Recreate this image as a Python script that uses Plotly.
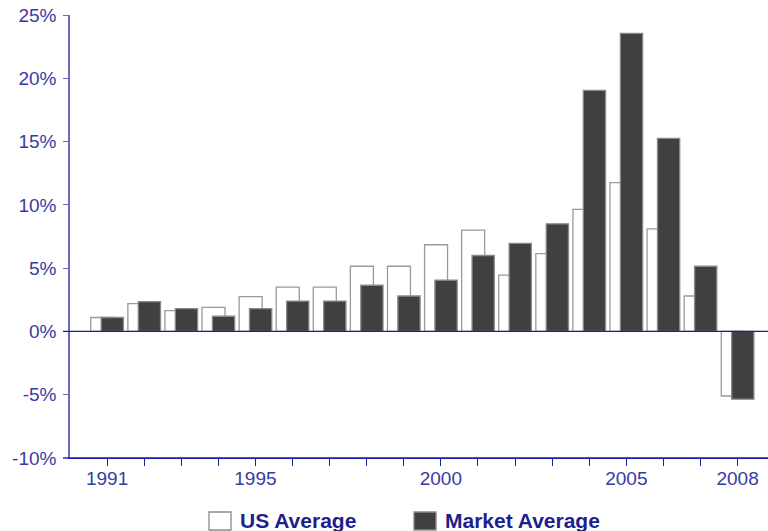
import plotly.graph_objects as go

years = list(range(1991, 2009))
us_average = [1.1, 2.2, 1.65, 1.9, 2.75, 3.5, 3.5, 5.15, 5.15, 6.85, 8.0, 4.45, 6.15, 9.65, 11.75, 8.1, 2.8, -5.1]
market_average = [1.1, 2.35, 1.8, 1.2, 1.8, 2.4, 2.4, 3.65, 2.8, 4.05, 6.0, 6.95, 8.5, 19.05, 23.55, 15.25, 5.15, -5.35]
x_labels = {1991: "1991", 1995: "1995", 2000: "2000", 2005: "2005", 2008: "2008"}
y_ticks = [-10, -5, 0, 5, 10, 15, 20, 25]
y_labels = ["-10%", "-5%", "0%", "5%", "10%", "15%", "20%", "25%"]
series_names = ["US Average", "Market Average"]
series_fill = ["#ffffff", "#404040"]
series_line = ["#9a9a9a", "#8a8a8a"]

text_color = "#3a3aa3"
axis_color = "#6b6bbd"
dark_axis = "#1c1ca0"
font_family = "Liberation Sans, Arial, sans-serif"

fig = go.Figure()
fig.add_trace(go.Bar(
    x=years, y=us_average, name=series_names[0],
    width=0.62, offset=-0.44,
    marker=dict(color=series_fill[0], line=dict(color=series_line[0], width=1.3)),
))
fig.add_trace(go.Bar(
    x=years, y=market_average, name=series_names[1],
    width=0.6, offset=-0.16,
    marker=dict(color=series_fill[1], line=dict(color=series_line[1], width=1.3)),
))

# zero line and bottom axis extension
fig.add_shape(type="line", xref="paper", yref="y", x0=-0.01, x1=1, y0=0, y1=0,
              line=dict(color=dark_axis, width=1.3), layer="above")
fig.add_shape(type="line", xref="paper", yref="y", x0=-0.01, x1=1, y0=-10, y1=-10,
              line=dict(color=dark_axis, width=1.3), layer="above")

# legend drawn as swatches + labels
legend_swatch_x = [(0.1991, 0.2307), (0.4928, 0.5244)]
legend_text_x = [0.2407, 0.5344]
for i, name in enumerate(series_names):
    fig.add_shape(type="rect", xref="paper", yref="paper",
                  x0=legend_swatch_x[i][0], x1=legend_swatch_x[i][1], y0=-0.1625, y1=-0.1219,
                  fillcolor=series_fill[i], line=dict(color="#8a8a8a", width=1.3))
    fig.add_annotation(xref="paper", yref="paper", x=legend_text_x[i], y=-0.1422,
                       text="<b>%s</b>" % name, showarrow=False, xanchor="left", yanchor="middle",
                       font=dict(size=21, color="#1e1e8c", family=font_family))

fig.update_layout(
    width=768, height=531,
    margin=dict(l=70, r=0, t=15, b=73),
    paper_bgcolor="white", plot_bgcolor="white",
    barmode="overlay",
    font=dict(family=font_family, size=19, color=text_color),
    showlegend=False,
    xaxis=dict(
        range=[1990, 2008.82],
        tickvals=years,
        ticktext=[x_labels.get(y, "") for y in years],
        ticks="outside", ticklen=7, tickcolor=dark_axis, tickwidth=1.3,
        showline=True, linecolor=dark_axis, linewidth=1.3,
        showgrid=False, zeroline=False,
        tickfont=dict(size=19, color=text_color),
        ticklabelstandoff=-4,
    ),
    yaxis=dict(
        range=[-10, 25],
        tickvals=y_ticks, ticktext=y_labels,
        ticks="outside", ticklen=5, tickcolor=axis_color, tickwidth=1.3,
        showline=True, linecolor=axis_color, linewidth=1.5,
        showgrid=False, zeroline=False,
        tickfont=dict(size=19, color=text_color),
        ticklabelstandoff=3,
    ),
)

fig.write_html("out.html", post_script="document.body.style.margin='0';",
               config={"displayModeBar": False})
